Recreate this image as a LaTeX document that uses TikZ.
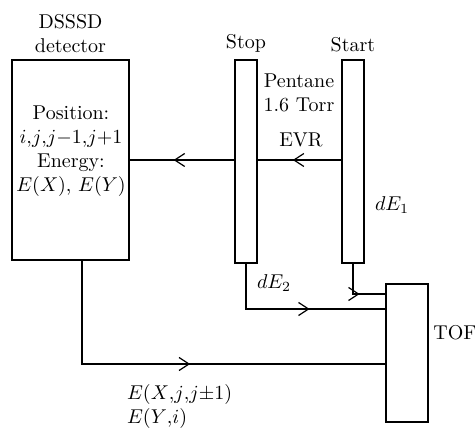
\documentclass[tikz,border=0pt]{standalone}
\usetikzlibrary{arrows.meta,decorations.markings,positioning}

\tikzset{
  box/.style={draw, line width=0.6pt, inner sep=0pt},
  flow/.style={line width=0.6pt, postaction={decorate},
    decoration={markings, mark=at position #1 with {\arrow{Straight Barb[length=5pt,width=6.5pt,line width=0.6pt]}}}},
  flow/.default=0.58
}

\begin{document}
\begin{tikzpicture}[x=0.5pt, y=-0.5pt, font=\fontsize{10}{12}\selectfont]
    \useasboundingbox (0,0) rectangle (475,431);
    % detector, timing foils and TOF unit
    \node[box, minimum width=58.5pt, minimum height=100pt] (det) at (70.5,160) {};
    \node[box, minimum width=11pt, minimum height=101.5pt] (stop) at (246,161.5) {};
    \node[box, minimum width=11pt, minimum height=101.5pt] (start) at (353,161.5) {};
    \node[box, minimum width=21pt, minimum height=69pt] (tof) at (407,353) {};
    % labels
    \node[above=0pt of det, align=center] (det-name) {DSSSD\\detector};
    \node[above=0pt of stop] (stop-name) {Stop};
    \node[above=0pt of start] (start-name) {Start};
    \node[align=center] (det-text) at (71,151) {Position:\\$i{,}j{,}j{-}1{,}j{+}1$\\Energy:\\$E(X)$, $E(Y)$};
    \node[align=center] (gas) at (299,93) {Pentane\\1.6 Torr};
    \node (evr) at (301,140) {EVR};
    \node[anchor=west] (de1) at (368,205) {$dE_1$};
    \node[anchor=west] (de2) at (250,283) {$dE_2$};
    \node[anchor=west, inner sep=1pt] (tof-name) at (431,333) {TOF};
    \node[anchor=west, align=left] (e-sig) at (120,406) {$E(X{,}j{,}j{\pm}1)$\\$E(Y{,}i)$};
    % beam and signal lines
    \draw[flow] (start.west |- det.east) -- (stop.east |- det.east);
    \draw[flow] (stop.west |- det.east) -- (det.east);
    \draw[flow=0.59] (start.south) |- (tof.west |- 0,294);
    \draw[flow=0.59] (stop.south) |- (tof.west |- 0,309);
    \draw[flow=0.52] ([xshift=5.75pt]det.south) |- (tof.west |- 0,364);
\end{tikzpicture}
\end{document}
